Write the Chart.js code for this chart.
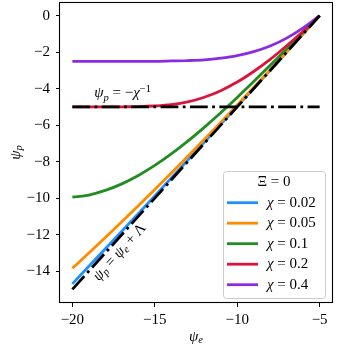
<!DOCTYPE html>
<html>
<head>
<meta charset="utf-8">
<script src="https://cdn.jsdelivr.net/npm/chart.js@4/dist/chart.umd.min.js"></script>
<style>
html,body{margin:0;padding:0;background:#fff;}
#wrap{width:337px;height:350px;}
</style>
</head>
<body>
<div id="wrap"><canvas id="c" width="337" height="350"></canvas></div>
<script>
// ---- data ----
const psiE = [-20,-19,-18,-17,-16,-15,-14,-13,-12,-11,-10,-9,-8,-7,-6,-5];
const chiLabels = ['0.02','0.05','0.1','0.2','0.4'];
const psiP_chi002 = [-14.70,-13.74,-12.78,-11.82,-10.85,-9.88,-8.90,-7.92,-6.94,-5.96,-4.97,-3.98,-2.99,-2.00,-1.00,0];
const psiP_chi005 = [-13.85,-13.01,-12.16,-11.30,-10.42,-9.53,-8.63,-7.71,-6.79,-5.85,-4.90,-3.94,-2.97,-1.99,-1.00,0];
const psiP_chi01  = [-9.95,-9.83,-9.58,-9.22,-8.76,-8.21,-7.58,-6.88,-6.12,-5.32,-4.48,-3.61,-2.72,-1.82,-0.91,0];
const psiP_chi02  = [-5.00,-5.00,-5.00,-4.995,-4.985,-4.95,-4.88,-4.73,-4.47,-4.11,-3.64,-3.06,-2.40,-1.65,-0.85,0];
const psiP_chi04  = [-2.50,-2.50,-2.50,-2.50,-2.50,-2.50,-2.48,-2.46,-2.42,-2.33,-2.19,-1.97,-1.66,-1.23,-0.67,0];
const asymX = [-20,-5];
const asymH = [-5,-5];      // psi_p = -chi^-1  (chi = 0.2)
const asymD = [-15,0];      // psi_p = psi_e + Lambda
const xTicks = [-20,-15,-10,-5];
const yTicks = [0,-2,-4,-6,-8,-10,-12,-14];

// ---- styling ----
const colors = ['#1E90FF','#FF8C00','#228B22','#DC143C','#8A2BE2'];
const series = [psiP_chi002, psiP_chi005, psiP_chi01, psiP_chi02, psiP_chi04];
const SERIF = '"Liberation Serif", "DejaVu Serif", serif';
const FS = 15;
const pts = (xs, ys) => xs.map((x,i)=>({x:x, y:ys[i]}));
const fmt = v => (v<0?'\u2212':'') + Math.abs(v);

const datasets = [];
datasets.push({data: pts(asymX, asymH), borderColor:'#000', borderWidth:2.8, borderDash:[17.8,4.4,2.8,4.4], pointRadius:0, order:0, borderCapStyle:'butt'});
datasets.push({data: pts(asymX, asymD), borderColor:'#000', borderWidth:2.8, borderDash:[17.8,4.4,2.8,4.4], pointRadius:0, order:0, borderCapStyle:'butt'});
series.forEach((s,i)=>{
  datasets.push({label:'\u03c7 = '+chiLabels[i], data: pts(psiE, s), borderColor: colors[i], borderWidth:2.8,
    pointRadius:0, cubicInterpolationMode:'monotone', order: 5-i, borderCapStyle:'butt'});
});

function drawRich(ctx, parts, x, y, size, align){
  const segs = parts.map(p=>{
    const sz = (p.sub||p.sup) ? size*0.7 : size;
    const font = (p.it?'italic ':'') + sz + 'px ' + SERIF;
    ctx.font = font;
    return {t:p.t, font, w: ctx.measureText(p.t).width, dy: p.sub ? size*0.22 : (p.sup ? -size*0.38 : 0)};
  });
  const total = segs.reduce((a,s)=>a+s.w,0);
  let cx = align==='center' ? x - total/2 : (align==='right' ? x-total : x);
  ctx.textAlign='left';
  segs.forEach(s=>{ ctx.font=s.font; ctx.fillText(s.t, cx, y + s.dy); cx += s.w; });
  return total;
}

const overlay = {
  id:'overlay',
  afterDatasetsDraw(chart){
    const ctx = chart.ctx, a = chart.chartArea, xs = chart.scales.x, ys = chart.scales.y;
    ctx.save();
    ctx.fillStyle = '#000';
    ctx.textBaseline = 'alphabetic';
    drawRich(ctx, [{t:'\u03c8',it:1},{t:'p',it:1,sub:1},{t:' = \u2212'},{t:'\u03c7',it:1},{t:'\u22121',sup:1}],
      xs.getPixelForValue(-16.95), ys.getPixelForValue(-4.47), FS, 'center');
    ctx.save();
    ctx.translate(xs.getPixelForValue(-17.13), ys.getPixelForValue(-12.97));
    ctx.rotate(-48*Math.PI/180);
    ctx.textBaseline = 'middle';
    drawRich(ctx, [{t:'\u03c8',it:1},{t:'p',it:1,sub:1},{t:' = '},{t:'\u03c8',it:1},{t:'e',it:1,sub:1},{t:' + \u039b'}], 0, 0, FS, 'center');
    ctx.restore();
    // frame
    ctx.strokeStyle = '#000'; ctx.lineWidth = 1.1;
    ctx.strokeRect(Math.round(a.left)-0.5, Math.round(a.top)+0.5, Math.round(a.right-a.left)+1, Math.round(a.bottom-a.top)-1);
    // legend
    const bw = 102, bh = 127;
    const bx = a.right - 7 - bw, by = a.bottom - 5 - bh;
    ctx.beginPath();
    if (ctx.roundRect) ctx.roundRect(bx+0.5, by+0.5, bw, bh, 3); else ctx.rect(bx+0.5,by+0.5,bw,bh);
    ctx.fillStyle = 'rgba(255,255,255,0.8)'; ctx.fill();
    ctx.strokeStyle = '#cccccc'; ctx.lineWidth = 1; ctx.stroke();
    ctx.fillStyle = '#000';
    ctx.textBaseline = 'middle';
    drawRich(ctx, [{t:'\u039e = 0'}], bx + bw/2, by + 11, FS, 'center');
    chiLabels.forEach((c,i)=>{
      const yy = by + 31.7 + i*20.5;
      ctx.strokeStyle = colors[i]; ctx.lineWidth = 2.8; ctx.lineCap='butt';
      ctx.beginPath(); ctx.moveTo(bx+4, yy); ctx.lineTo(bx+35, yy); ctx.stroke();
      ctx.fillStyle = '#000';
      drawRich(ctx, [{t:'\u03c7',it:1},{t:' = '+c}], bx+44, yy, FS, 'left');
    });
    // axis titles
    drawRich(ctx, [{t:'\u03c8',it:1},{t:'e',it:1,sub:1}], (a.left+a.right)/2, 337, FS, 'center');
    ctx.save();
    ctx.translate(16, (a.top+a.bottom)/2);
    ctx.rotate(-Math.PI/2);
    drawRich(ctx, [{t:'\u03c8',it:1},{t:'p',it:1,sub:1}], 0, 0, FS, 'center');
    ctx.restore();
    ctx.restore();
  }
};

new Chart(document.getElementById('c'), {
  type:'line',
  data:{datasets},
  plugins:[overlay],
  options:{
    responsive:false, animation:false,
    layout:{padding:{top:2,right:5,left:0,bottom:0}},
    plugins:{legend:{display:false}, tooltip:{enabled:false}},
    scales:{
      x:{type:'linear', min:-20.75, max:-4.25,
        afterBuildTicks:s=>{ s.ticks = xTicks.map(v=>({value:v})); },
        afterFit:s=>{ s.height = 47; s.paddingLeft = 0; s.paddingRight = 0; },
        ticks:{callback:fmt, color:'#000', font:{family:SERIF, size:FS}, padding:4, maxRotation:0, autoSkip:false},
        grid:{drawOnChartArea:false, drawTicks:true, tickLength:4, tickColor:'#000', tickWidth:1},
        border:{display:false}},
      y:{type:'linear', min:-15.75, max:0.75,
        afterBuildTicks:s=>{ s.ticks = yTicks.map(v=>({value:v})); },
        afterFit:s=>{ s.width = 60; s.paddingTop = 0; s.paddingBottom = 0; },
        ticks:{callback:fmt, color:'#000', font:{family:SERIF, size:FS}, padding:6, autoSkip:false},
        grid:{drawOnChartArea:false, drawTicks:true, tickLength:4, tickColor:'#000', tickWidth:1},
        border:{display:false}}
    }
  }
});
</script>
</body>
</html>
